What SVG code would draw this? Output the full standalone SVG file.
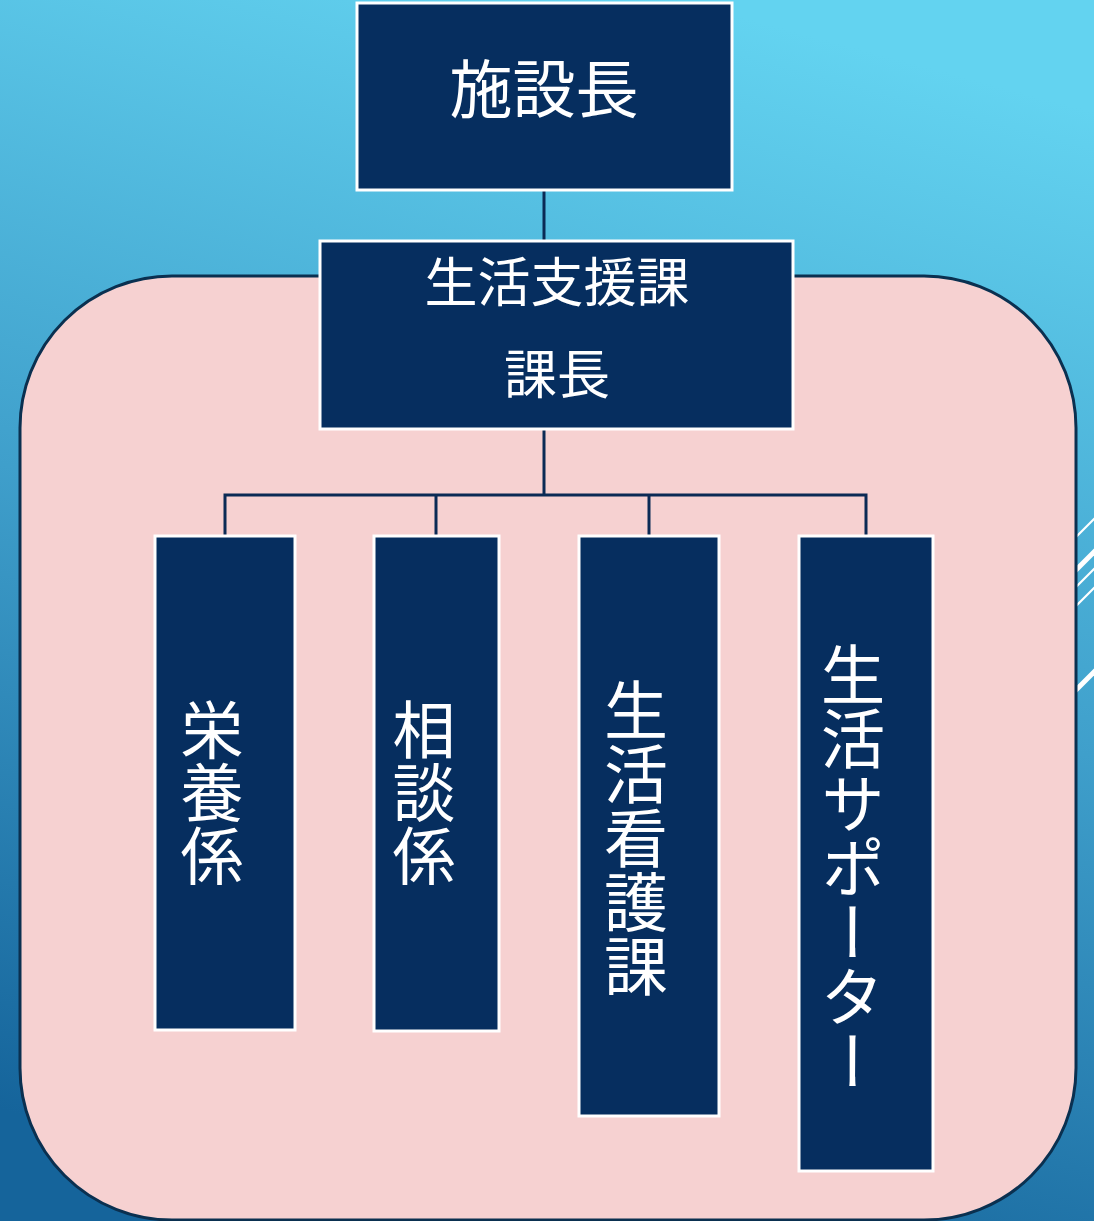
<svg xmlns="http://www.w3.org/2000/svg" width="1094" height="1221" viewBox="0 0 1094 1221">
<defs>
<linearGradient id="bg" x1="0.62" y1="0" x2="0.38" y2="1">
<stop offset="0" stop-color="#63d3f0"/>
<stop offset="0.5" stop-color="#3f9fcb"/>
<stop offset="1" stop-color="#15649b"/>
</linearGradient>
<style>
.box{fill:#062e5f;stroke:#ffffff;stroke-width:3}
.t{fill:#ffffff;font-family:"Noto Sans CJK JP","Noto Sans CJK SC",sans-serif}
.v{writing-mode:vertical-rl;text-orientation:upright}
.conn{stroke:#0b2a55;stroke-width:3;fill:none}
.deco{stroke:#ffffff;fill:none}
</style>
</defs>
<rect x="0" y="0" width="1094" height="1221" fill="url(#bg)"/>
<g id="deco">
<line class="deco" x1="1060" y1="553" x2="1110" y2="503" stroke-width="2"/>
<line class="deco" x1="1060" y1="586" x2="1110" y2="536" stroke-width="5"/>
<line class="deco" x1="1060" y1="603" x2="1110" y2="553" stroke-width="2"/>
<line class="deco" x1="1060" y1="622" x2="1110" y2="572" stroke-width="2"/>
<line class="deco" x1="1060" y1="706" x2="1110" y2="656" stroke-width="5"/>
</g>
<rect id="group-area" x="20" y="276" width="1056" height="944" rx="152" ry="152" fill="#f6d1d1" stroke="#0a3050" stroke-width="3"/>
<g id="connectors">
<line class="conn" x1="544" y1="190" x2="544" y2="240"/>
<line class="conn" x1="544" y1="429" x2="544" y2="495"/>
<polyline class="conn" points="225,535 225,495 866,495 866,535"/>
<line class="conn" x1="436" y1="495" x2="436" y2="535"/>
<line class="conn" x1="649" y1="495" x2="649" y2="535"/>
</g>
<g id="n-shisetsucho">
<rect class="box" x="357" y="3" width="375" height="187"/>
<text class="t" x="544" y="112" font-size="63" text-anchor="middle">施設長</text>
</g>
<g id="n-seikatsushien">
<rect class="box" x="320" y="241" width="473" height="188"/>
<text class="t" x="557" y="302" font-size="53" text-anchor="middle">生活支援課</text>
<text class="t" x="557" y="394" font-size="53" text-anchor="middle">課長</text>
</g>
<g id="n-eiyo">
<rect class="box" x="155" y="536" width="140" height="494"/>
<text class="t v" x="212" y="698" font-size="63">栄養係</text>
</g>
<g id="n-sodan">
<rect class="box" x="374" y="536" width="125" height="495"/>
<text class="t v" x="424" y="698" font-size="63">相談係</text>
</g>
<g id="n-kango">
<rect class="box" x="579" y="536" width="140" height="580"/>
<text class="t v" x="636" y="678" font-size="64">生活看護課</text>
</g>
<g id="n-supporter">
<rect class="box" x="799" y="536" width="134" height="635"/>
<text class="t v" x="853" y="642" font-size="64.5">生活サポーター</text>
</g>
</svg>
